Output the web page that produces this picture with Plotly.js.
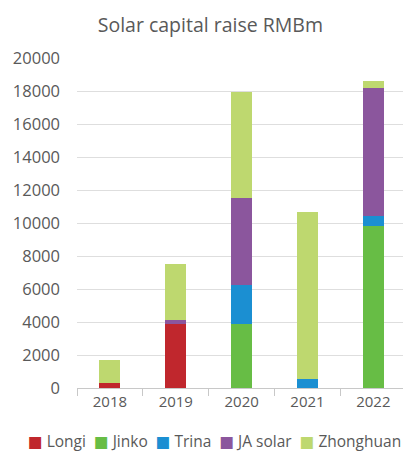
<!DOCTYPE html>
<html>
<head>
<meta charset="utf-8">
<script src="https://cdn.plot.ly/plotly-3.0.1.min.js"></script>
<style>html,body{margin:0;padding:0;background:#fff;}#chart{width:403px;height:456px;}</style>
</head>
<body>
<div id="chart"></div>
<script>
var years = ['2018', '2019', '2020', '2021', '2022'];
var seriesNames = ['Longi', 'Jinko', 'Trina', 'JA solar', 'Zhonghuan'];
var seriesColors = ['#c0272d', '#67bd45', '#1b8fd2', '#8b569d', '#bed86f'];
var longi = [300, 3900, 0, 0, 0];
var jinko = [0, 0, 3850, 0, 9800];
var trina = [0, 0, 2400, 530, 600];
var jaSolar = [0, 200, 5250, 0, 7800];
var zhonghuan = [1380, 3400, 6450, 10160, 400];
var yTicks = [0, 2000, 4000, 6000, 8000, 10000, 12000, 14000, 16000, 18000, 20000];

var seriesValues = [longi, jinko, trina, jaSolar, zhonghuan];
var traces = seriesValues.map(function (vals, i) {
  return {
    type: 'bar', x: years, y: vals, name: seriesNames[i],
    marker: {color: seriesColors[i], line: {width: 0}},
    showlegend: false, hoverinfo: 'x+y+name'
  };
});

var legendText = seriesNames.map(function (n, i) {
  return '<span style="color:' + seriesColors[i] + '">■</span> ' + n;
}).join('  ');

var fontFam = '"Open Sans", "DejaVu Sans", sans-serif';
var layout = {
  width: 403, height: 456,
  margin: {l: 77, r: 0, t: 58, b: 68},
  paper_bgcolor: '#ffffff', plot_bgcolor: '#ffffff',
  barmode: 'stack', bargap: 0.68,
  font: {family: fontFam, color: '#595959'},
  title: {text: 'Solar capital raise RMBm', font: {size: 19.5, color: '#595959', family: fontFam},
          x: 0.522, xanchor: 'center', y: 0.945, yanchor: 'middle'},
  xaxis: {
    type: 'category', range: [-0.5, 4.45],
    tickfont: {size: 15, color: '#595959'},
    ticks: 'outside', tickson: 'boundaries', ticklen: 7, tickcolor: '#c8c8c8', tickwidth: 1,
    showline: true, linecolor: '#c8c8c8', linewidth: 1,
    showgrid: false, fixedrange: true
  },
  yaxis: {
    range: [0, 20000], tickvals: yTicks, ticktext: yTicks.map(String),
    tickfont: {size: 16.5, color: '#595959'},
    showgrid: true, gridcolor: '#dedede', gridwidth: 1,
    zeroline: false, showline: false, ticks: '', ticklabelstandoff: 16,
    fixedrange: true
  },
  annotations: [{
    xref: 'paper', yref: 'paper', x: 0.423, y: -0.16, xanchor: 'center', yanchor: 'middle',
    text: legendText, showarrow: false, font: {size: 15.5, color: '#595959', family: fontFam}
  }]
};

Plotly.newPlot('chart', traces, layout, {displayModeBar: false, staticPlot: true});
</script>
</body>
</html>
